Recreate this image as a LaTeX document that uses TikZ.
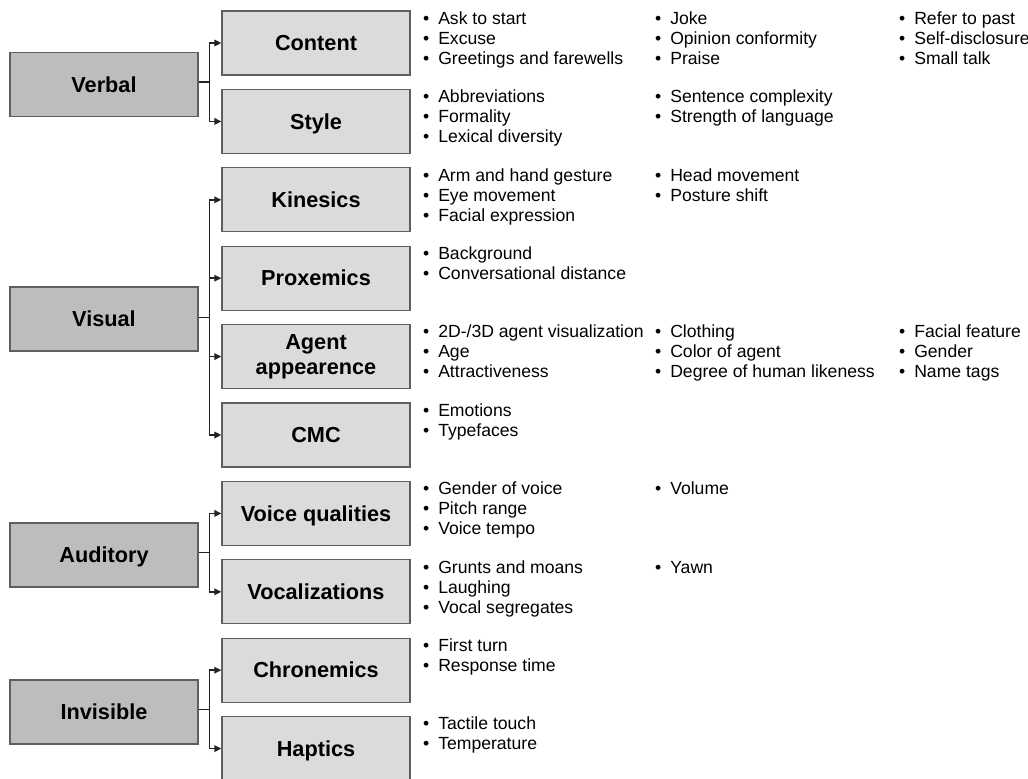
\documentclass[tikz,border=0pt]{standalone}
\usepackage{fontspec}
\setmainfont{Liberation Sans}
\usetikzlibrary{arrows.meta,calc}

\definecolor{maingray}{RGB}{190,188,188}
\definecolor{subgray}{RGB}{219,219,219}
\definecolor{edgegray}{RGB}{95,95,95}
\definecolor{linegray}{RGB}{35,35,35}

% one column of bullet points beside a category box
\newcommand\itemcol[4]{%
  \foreach \t [count=\i from 0] in {#4}
    \node[entry] (#1-\i) at (#2, #3+10.7+20*\i) {•\hspace{9pt}\t};%
}

\begin{document}
\begin{tikzpicture}[x=1pt,y=-1pt,
  boxbase/.style={draw=edgegray, line width=1.3pt, minimum width=188pt,
    minimum height=64pt, inner sep=0pt, align=center,
    font=\fontsize{21.7}{25}\selectfont\bfseries, text=black},
  oneline/.style={text height=15.4pt, text depth=0pt},
  mainbox/.style={boxbase, fill=maingray},
  subbox/.style={boxbase, fill=subgray},
  entry/.style={anchor=mid west, inner sep=0pt, text=black,
    font=\fontsize{17.6}{20}\selectfont},
  conn/.style={draw=linegray, line width=1.6pt},
  arr/.style={conn, -{Triangle[length=7pt,width=6.5pt]}}
]
\useasboundingbox (0,0) rectangle (1028,779);
\fill[white] (0,0) rectangle (1028,779);
\clip (0,0) rectangle (1028,779);

% top-level categories
\node[mainbox, oneline] (verbal)    at (104,84.7) {Verbal};
\node[mainbox, oneline] (visual)    at (104,319)  {Visual};
\node[mainbox, oneline] (auditory)  at (104,555)  {Auditory};
\node[mainbox, oneline] (invisible) at (104,712)  {Invisible};

% sub-categories
\node[subbox, oneline] (content)   at (316,43)    {Content};
\node[subbox, oneline] (style)     at (316,121.4) {Style};
\node[subbox, oneline] (kinesics)  at (316,199.8) {Kinesics};
\node[subbox, oneline] (proxemics) at (316,278.2) {Proxemics};
\node[subbox]          (agent)     at (316,356.6) {Agent\\appearence};
\node[subbox, oneline] (cmc)       at (316,435)   {CMC};
\node[subbox, oneline] (voice)     at (316,513.4) {Voice qualities};
\node[subbox, oneline] (vocal)     at (316,591.8) {Vocalizations};
\node[subbox, oneline] (chron)     at (316,670.2) {Chronemics};
\node[subbox, oneline] (haptics)   at (316,748.6) {Haptics};

% branching connectors
\coordinate (jverbal)    at ($(content.west)!0.5!(style.west)+(-12,0)$);
\coordinate (jvisual)    at ($(kinesics.west)!0.5!(cmc.west)+(-12,0)$);
\coordinate (jauditory)  at ($(voice.west)!0.5!(vocal.west)+(-12,0)$);
\coordinate (jinvisible) at ($(chron.west)!0.5!(haptics.west)+(-12,0)$);

\draw[conn] (verbal.east |- jverbal) -- (jverbal);
\draw[arr] (jverbal) |- (content.west);
\draw[arr] (jverbal) |- (style.west);

\draw[conn] (visual.east |- jvisual) -- (jvisual);
\draw[arr] (jvisual) |- (kinesics.west);
\draw[arr] (jvisual) |- (proxemics.west);
\draw[arr] (jvisual) |- (agent.west);
\draw[arr] (jvisual) |- (cmc.west);

\draw[conn] (auditory.east |- jauditory) -- (jauditory);
\draw[arr] (jauditory) |- (voice.west);
\draw[arr] (jauditory) |- (vocal.west);

\draw[conn] (invisible.east |- jinvisible) -- (jinvisible);
\draw[arr] (jinvisible) |- (chron.west);
\draw[arr] (jinvisible) |- (haptics.west);

% bullet lists
\itemcol{content-a}{422.9}{11}{Ask to start, Excuse, Greetings and farewells}
\itemcol{content-b}{654.9}{11}{Joke, Opinion conformity, Praise}
\itemcol{content-c}{898.9}{11}{Refer to past, Self-disclosure, Small talk}

\itemcol{style-a}{422.9}{89.4}{Abbreviations, Formality, Lexical diversity}
\itemcol{style-b}{654.9}{89.4}{Sentence complexity, Strength of language}

\itemcol{kinesics-a}{422.9}{167.8}{Arm and hand gesture, Eye movement, Facial expression}
\itemcol{kinesics-b}{654.9}{167.8}{Head movement, Posture shift}

\itemcol{proxemics-a}{422.9}{246.2}{Background, Conversational distance}

\itemcol{agent-a}{422.9}{324.6}{2D-/3D agent visualization, Age, Attractiveness}
\itemcol{agent-b}{654.9}{324.6}{Clothing, Color of agent, Degree of human likeness}
\itemcol{agent-c}{898.9}{324.6}{Facial feature, Gender, Name tags}

\itemcol{cmc-a}{422.9}{403}{Emotions, Typefaces}

\itemcol{voice-a}{422.9}{481.4}{Gender of voice, Pitch range, Voice tempo}
\itemcol{voice-b}{654.9}{481.4}{Volume}

\itemcol{vocal-a}{422.9}{559.8}{Grunts and moans, Laughing, Vocal segregates}
\itemcol{vocal-b}{654.9}{559.8}{Yawn}

\itemcol{chron-a}{422.9}{638.2}{First turn, Response time}

\itemcol{haptics-a}{422.9}{716.6}{Tactile touch, Temperature}
\end{tikzpicture}
\end{document}
